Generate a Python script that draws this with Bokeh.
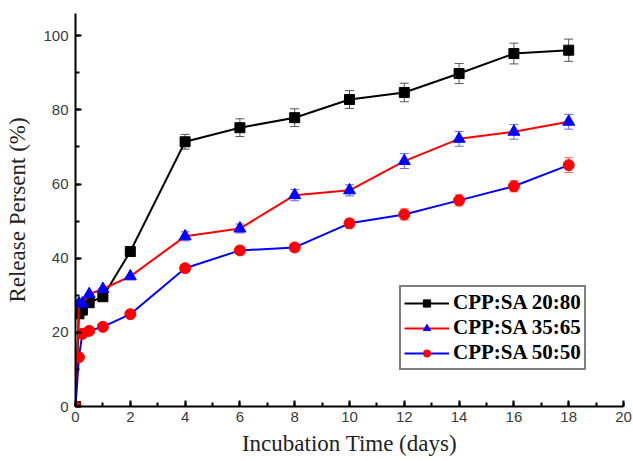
from bokeh.plotting import figure
from bokeh.models import ColumnDataSource, Whisker, TeeHead, SingleIntervalTicker, Legend, LegendItem
from bokeh.embed import file_html
from bokeh.resources import INLINE

time = [0, 0.125, 0.25, 0.5, 1, 2, 4, 6, 8, 10, 12, 14, 16, 18]
s2080 = [0, 25.0, 26.0, 28.0, 29.6, 41.8, 71.4, 75.2, 77.9, 82.8, 84.7, 89.8, 95.2, 96.1]
e2080 = [0, 0, 0, 0, 0, 0, 2.0, 2.4, 2.4, 2.4, 2.5, 2.7, 2.8, 3.0]
s3565 = [0, 27.8, 27.8, 30.3, 31.7, 35.1, 45.9, 48.0, 57.0, 58.3, 66.2, 72.2, 74.1, 76.8]
e3565 = [0, 0, 0, 0, 0, 0, 1.2, 1.2, 1.5, 1.5, 2.0, 2.0, 2.0, 2.0]
s5050 = [0, 13.3, 19.6, 20.4, 21.5, 24.9, 37.3, 42.1, 42.9, 49.4, 51.8, 55.6, 59.4, 65.1]
e5050 = [0, 0, 0, 0, 0, 0, 1.0, 1.0, 1.0, 1.2, 1.5, 1.5, 1.5, 2.0]
labels = ["CPP:SA 20:80", "CPP:SA 35:65", "CPP:SA 50:50"]

p = figure(width=633, height=461, output_backend="svg", toolbar_location=None,
           x_range=(0, 20), y_range=(0, 106),
           min_border_left=75, min_border_right=10, min_border_top=13, min_border_bottom=55)
p.outline_line_color = None
p.grid.visible = False
p.background_fill_color = "white"
p.border_fill_color = "white"

p.xaxis.ticker = SingleIntervalTicker(interval=2, num_minor_ticks=2)
p.yaxis.ticker = SingleIntervalTicker(interval=20, num_minor_ticks=2)
for ax in (p.xaxis, p.yaxis):
    ax.axis_line_width = 2
    ax.major_tick_line_width = 2
    ax.minor_tick_line_width = 2
    ax.major_tick_in = 6
    ax.major_tick_out = 0
    ax.minor_tick_in = 4
    ax.minor_tick_out = 0
    ax.major_label_text_font = "Liberation Sans"
    ax.major_label_text_font_size = "15px"
    ax.major_label_text_color = "#3a3a3a"
    ax.axis_label_text_font = "Liberation Serif"
    ax.axis_label_text_font_size = "23px"
    ax.axis_label_text_font_style = "normal"
    ax.axis_label_text_color = "#222222"
p.xaxis.axis_label = "Incubation Time (days)"
p.yaxis.axis_label = "Release Persent (%)"
p.xaxis.major_label_standoff = 5
p.yaxis.major_label_standoff = 7
p.xaxis.axis_label_standoff = 6
p.yaxis.axis_label_standoff = 10

series = [
    (s2080, e2080, "black", "black", "square", 10, "#555555"),
    (s3565, e3565, "red", "blue", "triangle", 12, "#6666ff"),
    (s5050, e5050, "blue", "red", "circle", 11, "#ff6666"),
]
items = []
for (vals, errs, lc, mc, marker, size, ec), lab in zip(series, labels):
    src = ColumnDataSource(dict(x=time, y=vals,
                                lo=[v - e for v, e in zip(vals, errs)],
                                hi=[v + e for v, e in zip(vals, errs)]))
    w = Whisker(source=src, base="x", upper="hi", lower="lo", line_color=ec, line_width=1,
                upper_head=TeeHead(size=9, line_color=ec, line_width=1),
                lower_head=TeeHead(size=9, line_color=ec, line_width=1))
    p.add_layout(w)
    r1 = p.line("x", "y", source=src, line_color=lc, line_width=2)
    r2 = p.scatter("x", "y", source=src, marker=marker, size=size, fill_color=mc, line_color=mc)
    items.append(LegendItem(label=lab, renderers=[r1, r2]))

legend = Legend(items=items, location=(324, 36))
legend.label_text_font = "Liberation Serif"
legend.label_text_font_size = "21px"
legend.label_text_font_style = "bold"
legend.label_text_color = "black"
legend.border_line_color = "black"
legend.border_line_width = 2
legend.glyph_width = 45
legend.glyph_height = 18
legend.spacing = 0
legend.padding = 3
legend.margin = 0
legend.label_standoff = 4
legend.label_height = 18
legend.background_fill_alpha = 1
p.add_layout(legend, "center")

open("out.html", "w").write(file_html(p, INLINE))
